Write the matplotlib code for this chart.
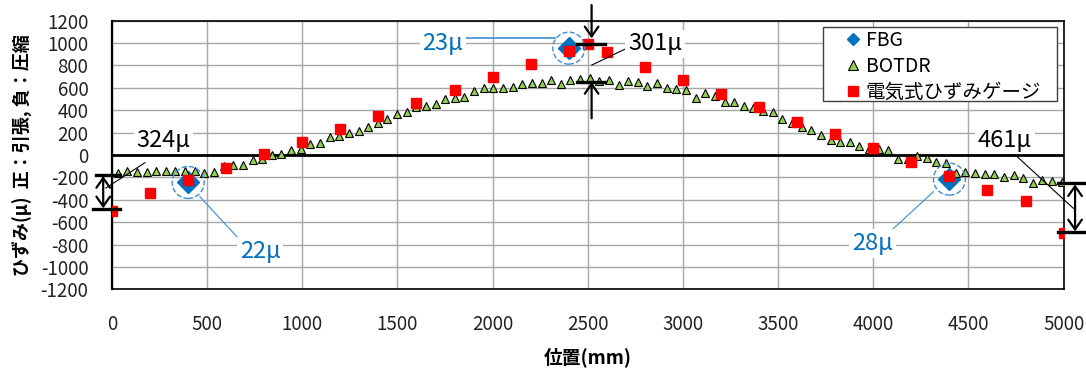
import numpy as np
import matplotlib.pyplot as plt
from matplotlib.lines import Line2D
from matplotlib.patches import Rectangle

plt.rcParams['font.family'] = ['Noto Sans CJK JP', 'DejaVu Sans']
plt.rcParams['axes.unicode_minus'] = False

# FBG
fbg_pos = [400, 2400, 4400]
fbg_strain = [-245, 955, -216]

# electric strain gauge
gauge_pos = [0, 200, 400, 600, 800, 1000, 1200, 1400, 1600, 1800, 2000, 2200,
             2400, 2500, 2600, 2800, 3000, 3200, 3400, 3600, 3800, 4000, 4200,
             4400, 4600, 4800, 5000]
gauge_strain = [-500, -337, -223, -113, 9, 119, 232, 351, 462, 581, 697, 810,
                929, 995, 920, 789, 670, 542, 429, 298, 188, 60, -65,
                -188, -313, -408, -700]

# BOTDR, 99 samples at ~50.6 mm pitch
botdr_pos = np.linspace(30, 4990, 99)
botdr_strain = [-158, -143, -149, -152, -140, -143, -140, -146, -146, -161,
                -155, -102, -93, -87, -47, -37, 4, 9, 45, 51,
                98, 110, 158, 170, 194, 217, 253, 283, 319, 366,
                387, 432, 438, 460, 500, 507, 518, 568, 600, 597,
                597, 605, 634, 646, 646, 667, 635, 670, 683, 690,
                660, 673, 626, 658, 649, 620, 646, 600, 587, 584,
                511, 551, 524, 470, 472, 442, 417, 390, 387, 323,
                289, 253, 223, 179, 134, 119, 119, 80, 55, 51,
                45, -35, -33, -9, -30, -65, -74, -158, -149, -158,
                -170, -170, -199, -179, -208, -247, -223, -229, -238]

x_ticks = list(range(0, 5001, 500))
y_ticks = list(range(-1200, 1201, 200))

series_labels = ['FBG', 'BOTDR', '電気式ひずみゲージ']

BLUE = '#0070C0'
LBLUE = '#3a8fd8'

fig = plt.figure(figsize=(10.86, 3.72), dpi=100)
ax = fig.add_axes([0.1031, 0.2223, 0.8763, 0.7220])
ax.set_xlim(0, 5000)
ax.set_ylim(-1200, 1200)
ax.set_xticks(x_ticks)
ax.set_yticks(y_ticks)
ax.grid(color='#a6a6a6', lw=1)
ax.set_axisbelow(True)
ax.tick_params(length=0, labelsize=13.5, labelcolor='#222222')
ax.tick_params(axis='x', pad=18)
ax.tick_params(axis='y', pad=17)
for s in ax.spines.values():
    s.set_color('black')
    s.set_linewidth(1.2)
ax.spines['left'].set_linewidth(1.6)

ax.axhline(0, color='black', lw=2, zorder=1.5)

ax.plot(fbg_pos, fbg_strain, ls='none', marker='D', ms=11.5, color=BLUE, zorder=3)
ax.plot(botdr_pos, botdr_strain, ls='none', marker='^', ms=6.4, mfc='#92D050',
        mec='black', mew=0.8, zorder=4)
ax.plot(gauge_pos, gauge_strain, ls='none', marker='s', ms=7.6, color='#FF0000', zorder=5)

# dashed circles round the FBG points
ax.scatter(fbg_pos, fbg_strain, s=530, facecolors='none', edgecolors=LBLUE,
           linestyles='--', linewidths=1, zorder=6)


def seg(xs, ys, color='black', lw=0.8):
    ax.plot(xs, ys, color=color, lw=lw, clip_on=False, zorder=7)


def arrow(x, y0, y1, style):
    ax.annotate('', xy=(x, y1), xytext=(x, y0), annotation_clip=False,
                arrowprops=dict(arrowstyle=style, color='black', lw=1.6,
                                shrinkA=0, shrinkB=0, mutation_scale=14),
                zorder=7)


box = dict(boxstyle='square,pad=0.12', fc='white', ec='none')
fs_note = 17

# 324u at x=0
seg([-86, 42], [-179, -179], lw=2.4)
seg([-100, 42], [-483, -483], lw=2.4)
arrow(-46, -188, -476, '<->,head_length=0.5,head_width=0.35')
seg([173, -32], [-69, -295])
ax.text(270, 134, '324μ', fontsize=fs_note, ha='center', va='center', bbox=box, zorder=8)

# 22u
seg([462, 664], [-373, -744], color=LBLUE)
ax.text(778, -858, '22μ', fontsize=fs_note, color=BLUE, ha='center', va='center', bbox=box, zorder=8)

# 23u
seg([1860, 2328], [1048, 1048], color=LBLUE, lw=1.2)
ax.text(1739, 992, '23μ', fontsize=fs_note, color=BLUE, ha='center', va='center', bbox=box, zorder=8)

# 301u at x=2500
arrow(2520, 1340, 1043, '->,head_length=0.5,head_width=0.35')
arrow(2520, 328, 652, '->,head_length=0.5,head_width=0.35')
seg([2443, 2591], [995, 995], lw=2.4)
seg([2443, 2591], [655, 655], lw=2.4)
seg([2705, 2521], [954, 804])
ax.text(2853, 992, '301μ', fontsize=fs_note, ha='center', va='center', bbox=box, zorder=8)

# 28u
seg([4316, 4088], [-328, -685], color=LBLUE)
ax.text(3996, -789, '28μ', fontsize=fs_note, color=BLUE, ha='center', va='center', bbox=box, zorder=8)

# 461u at x=5000
seg([4971, 5118], [-253, -253], lw=2.4)
seg([4971, 5113], [-691, -691], lw=2.4)
arrow(5060, -262, -682, '<->,head_length=0.5,head_width=0.35')
seg([4733, 5051], [21, -476])
ax.text(4692, 134, '461μ', fontsize=fs_note, ha='center', va='center', bbox=box, zorder=8)

# legend with a separate frame
ax.add_patch(Rectangle((0.7468, 0.7022), 0.2459, 0.2732, transform=ax.transAxes,
                       fc='white', ec='#404040', lw=1, zorder=9, clip_on=False))
handles = [
    Line2D([], [], ls='none', marker='D', ms=6, color=BLUE),
    Line2D([], [], ls='none', marker='^', ms=7, mfc='#92D050', mec='black', mew=0.8),
    Line2D([], [], ls='none', marker='s', ms=7, color='#FF0000'),
]
leg = ax.legend(handles, series_labels, loc='upper left', bbox_to_anchor=(0.7698, 0.9669),
                frameon=False, fontsize=14, handlelength=0.9, handletextpad=0.2,
                borderpad=0, borderaxespad=0, labelspacing=0.27)
leg.set_zorder(10)

fig.text(22 / 1086, 1 - 155 / 372, 'ひずみ(μ)  正：引張, 負：圧縮', rotation=90,
         ha='center', va='center', fontsize=13, fontweight='bold')
fig.text(588 / 1086, 1 - 357 / 372, '位置(mm)', ha='center', va='center',
         fontsize=13.5, fontweight='bold')

fig.savefig('out.png', dpi=100)
